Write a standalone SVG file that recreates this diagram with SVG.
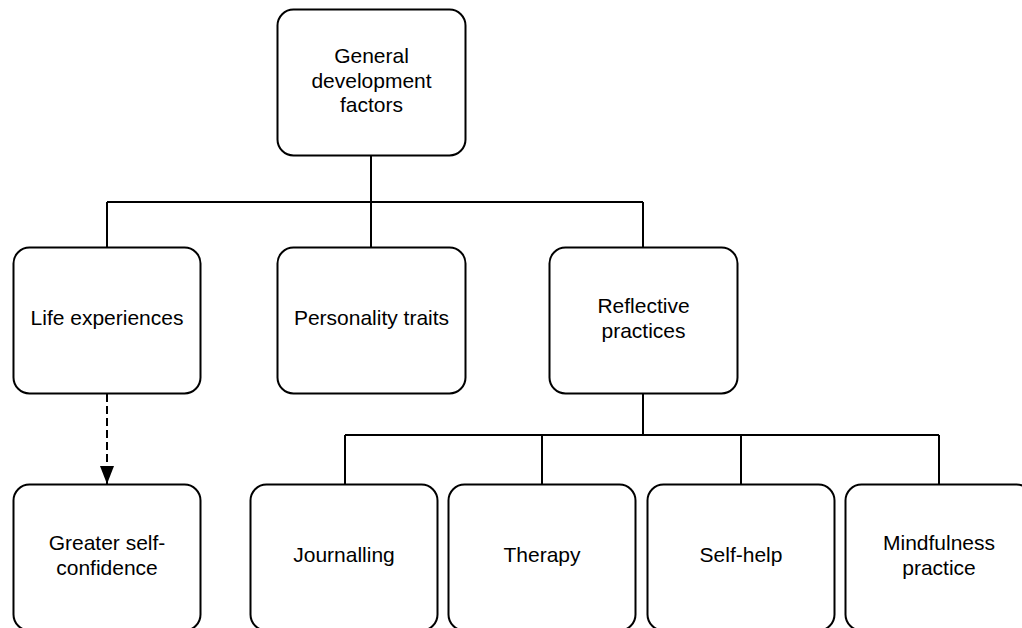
<svg xmlns="http://www.w3.org/2000/svg" width="1022" height="628" viewBox="0 0 1022 628">
  <defs>
    <marker id="arrow" viewBox="0 0 18 14" refX="18" refY="7" markerWidth="18" markerHeight="14" markerUnits="userSpaceOnUse" orient="auto">
      <path d="M0,0 L18,7 L0,14 Z" fill="#000"/>
    </marker>
    <style>
      .box { fill: #fff; stroke: #000; stroke-width: 2; }
      .lbl { font-family: "Liberation Sans", Arial, sans-serif; font-size: 21px; fill: #000; text-anchor: middle; }
      .wire { fill: none; stroke: #000; stroke-width: 2; }
      .dash { fill: none; stroke: #000; stroke-width: 2; stroke-dasharray: 8 4; }
    </style>
  </defs>
  <rect width="1022" height="628" fill="#fff"/>

  <g id="connectors">
    <!-- root to first level -->
    <path class="wire" d="M371,156 V202 M107,202 H643 M107,202 V247 M371,202 V247 M643,202 V247"/>
    <!-- reflective practices to its children -->
    <path class="wire" d="M643,393 V435 M345,435 H939 M345,435 V484 M542,435 V484 M741,435 V484 M939,435 V484"/>
    <!-- dashed outcome link -->
    <path class="dash" d="M107,394 V484" marker-end="url(#arrow)"/>
  </g>

  <g id="general-development-factors">
    <rect class="box" x="277.5" y="9.5" width="188" height="146" rx="16"/>
    <text class="lbl" x="371.5" y="63">General</text>
    <text class="lbl" x="371.5" y="87.5">development</text>
    <text class="lbl" x="371.5" y="112">factors</text>
  </g>

  <g id="life-experiences">
    <rect class="box" x="13.5" y="247.5" width="187" height="146" rx="16"/>
    <text class="lbl" x="107" y="325">Life experiences</text>
  </g>

  <g id="personality-traits">
    <rect class="box" x="277.5" y="247.5" width="188" height="146" rx="16"/>
    <text class="lbl" x="371.5" y="325">Personality traits</text>
  </g>

  <g id="reflective-practices">
    <rect class="box" x="549.5" y="247.5" width="188" height="146" rx="16"/>
    <text class="lbl" x="643.5" y="313">Reflective</text>
    <text class="lbl" x="643.5" y="337.5">practices</text>
  </g>

  <g id="greater-self-confidence">
    <rect class="box" x="13.5" y="484.5" width="187" height="146" rx="16"/>
    <text class="lbl" x="107" y="550">Greater self-</text>
    <text class="lbl" x="107" y="575">confidence</text>
  </g>

  <g id="journalling">
    <rect class="box" x="250.5" y="484.5" width="187" height="146" rx="16"/>
    <text class="lbl" x="344" y="562">Journalling</text>
  </g>

  <g id="therapy">
    <rect class="box" x="448.5" y="484.5" width="187" height="146" rx="16"/>
    <text class="lbl" x="542" y="562">Therapy</text>
  </g>

  <g id="self-help">
    <rect class="box" x="647.5" y="484.5" width="187" height="146" rx="16"/>
    <text class="lbl" x="741" y="562">Self-help</text>
  </g>

  <g id="mindfulness-practice">
    <rect class="box" x="845.5" y="484.5" width="187" height="146" rx="16"/>
    <text class="lbl" x="939" y="550">Mindfulness</text>
    <text class="lbl" x="939" y="575">practice</text>
  </g>
</svg>
